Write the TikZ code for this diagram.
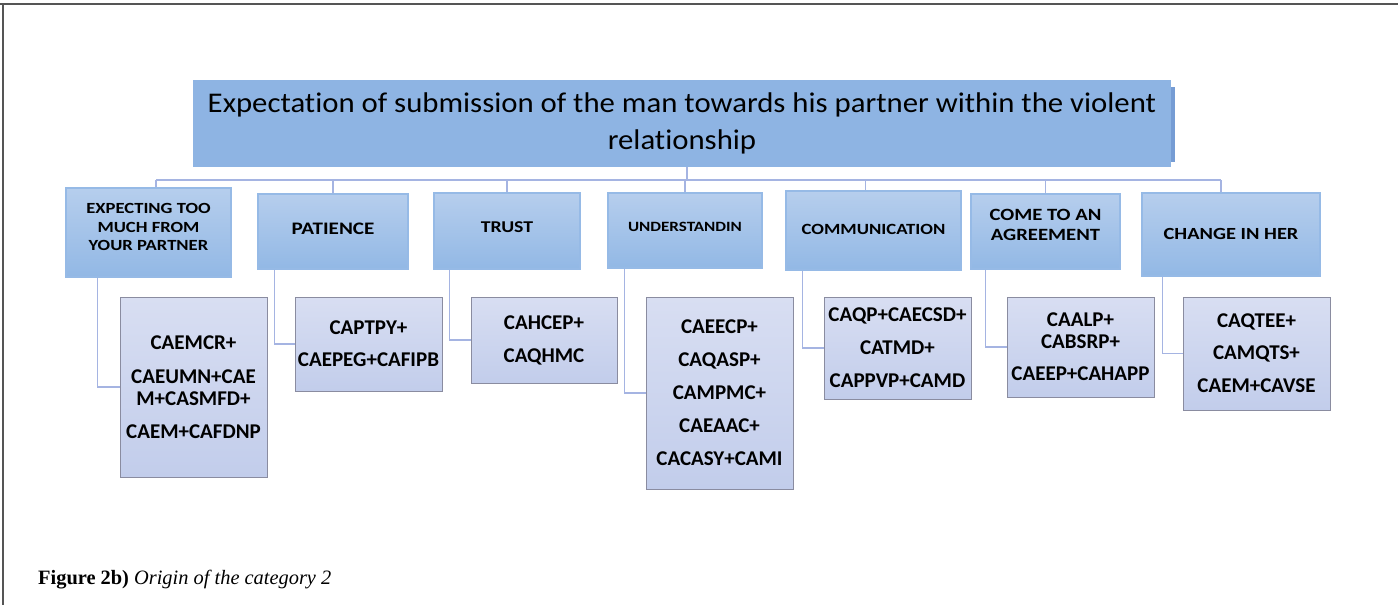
\documentclass[tikz,border=0pt]{standalone}
\usepackage{fontspec}
\newfontfamily\carl{Carlito}
\newfontfamily\carltitle[FakeStretch=1.08,Ligatures=NoCommon]{Carlito}
\newfontfamily\carlwide[FakeStretch=1.2]{Carlito}
\newfontfamily\capfont{Liberation Serif}
\definecolor{titlefill}{RGB}{142,180,227}
\definecolor{titleedge}{RGB}{118,156,212}
\definecolor{lonetop}{RGB}{182,206,237}
\definecolor{lonebot}{RGB}{146,184,229}
\definecolor{loneedge}{RGB}{150,186,230}
\definecolor{ltwotop}{RGB}{216,222,242}
\definecolor{ltwobot}{RGB}{194,205,235}
\definecolor{ltwoedge}{RGB}{138,140,160}
\definecolor{connc}{RGB}{165,180,226}
\definecolor{framec}{RGB}{85,85,85}
\tikzset{
  titlebox/.style={fill=titlefill, inner sep=0pt, align=center,
    font=\carltitle\fontsize{28.5}{37}\selectfont},
  lonebox/.style={draw=loneedge, line width=1.2pt, top color=lonetop,
    bottom color=lonebot, inner sep=0pt, align=center},
  ltwobox/.style={draw=ltwoedge, line width=1pt, top color=ltwotop,
    bottom color=ltwobot, inner sep=0pt, align=center,
    font=\carl\bfseries\fontsize{21}{22}\selectfont},
  conn/.style={draw=connc, line width=1.6pt},
  captext/.style={anchor=base west, inner sep=0pt,
    font=\capfont\fontsize{20.4}{22}\selectfont}
}
\begin{document}
\begin{tikzpicture}[x=1pt,y=-1pt]
\useasboundingbox (0,0) rectangle (1398,605);
% frame
\draw[framec, line width=2.5pt] (0,4) -- (1398,4);
\draw[framec, line width=1.8pt] (3,4) -- (3,605);

% title
\fill[titleedge] (1168,87) rectangle (1175,162);
\node[titlebox, minimum width=978pt, minimum height=87pt] (title) at (682,123.5)
  {Expectation of submission of the man towards his partner within the violent\\relationship};

% level 1
\node[lonebox, minimum width=165pt, minimum height=89pt, text depth=11pt,
  font=\carlwide\bfseries\fontsize{15.5}{18.5}\selectfont] (c1) at (148.5,232.5)
  {EXPECTING TOO\\MUCH FROM\\YOUR PARTNER};
\node[lonebox, minimum width=150pt, minimum height=75pt, text depth=6pt,
  font=\carlwide\bfseries\fontsize{17.6}{20}\selectfont] (c2) at (333,231.5) {PATIENCE};
\node[lonebox, minimum width=146pt, minimum height=76pt, text depth=8pt,
  font=\carlwide\bfseries\fontsize{16.5}{20}\selectfont] (c3) at (507,231) {TRUST};
\node[lonebox, minimum width=154pt, minimum height=75pt, text depth=8pt,
  font=\carlwide\bfseries\fontsize{14.2}{18}\selectfont] (c4) at (685,230.5) {UNDERSTANDIN};
\node[lonebox, minimum width=175pt, minimum height=79pt, text depth=3pt,
  font=\carlwide\bfseries\fontsize{15.6}{18}\selectfont] (c5) at (873.5,230.5) {COMMUNICATION};
\node[lonebox, minimum width=149pt, minimum height=75pt, text depth=13pt,
  font=\carlwide\bfseries\fontsize{17.2}{20}\selectfont] (c6) at (1045.5,231.5) {COME TO AN\\AGREEMENT};
\node[lonebox, minimum width=178pt, minimum height=83pt, text depth=2pt,
  font=\carlwide\bfseries\fontsize{17}{20}\selectfont] (c7) at (1231,234.5) {CHANGE IN HER};

% level 2
\node[ltwobox, minimum width=147pt, minimum height=180pt] (g1) at (193.5,387)
  {CAEMCR+\\[12pt]CAEUMN+CAE\\M+CASMFD+\\[11pt]CAEM+CAFDNP};
\node[ltwobox, minimum width=147pt, minimum height=94pt] (g2) at (368.5,344)
  {CAPTPY+\\[10pt]CAEPEG+CAFIPB};
\node[ltwobox, minimum width=146pt, minimum height=86pt] (g3) at (544,340)
  {CAHCEP+\\[11pt]CAQHMC};
\node[ltwobox, minimum width=147pt, minimum height=192pt] (g4) at (719.5,393)
  {CAEECP+\\[11pt]CAQASP+\\[11pt]CAMPMC+\\[11pt]CAEAAC+\\[11pt]CACASY+CAMI};
\node[ltwobox, minimum width=147pt, minimum height=102pt] (g5) at (897.5,348)
  {CAQP+CAECSD+\\[11pt]CATMD+\\[11pt]CAPPVP+CAMD};
\node[ltwobox, minimum width=147pt, minimum height=100pt] (g6) at (1080.5,347)
  {CAALP+\\CABSRP+\\[10pt]CAEEP+CAHAPP};
\node[ltwobox, minimum width=147pt, minimum height=113pt] (g7) at (1256.5,353.5)
  {CAQTEE+\\[10pt]CAMQTS+\\[11pt]CAEM+CAVSE};

% connectors: tree
\coordinate (bus) at (0,180);
\draw[conn] ([xshift=5pt]title.south) -- ([xshift=5pt]title.south |- bus);
\draw[conn] ([xshift=7.5pt]c1.north |- bus) -- ([xshift=-10pt]c7.north |- bus);
\draw[conn] ([xshift=7.5pt]c1.north) -- ([xshift=7.5pt]c1.north |- bus);
\draw[conn] (c2.north) -- (c2.north |- bus);
\draw[conn] (c3.north) -- (c3.north |- bus);
\draw[conn] (c4.north) -- (c4.north |- bus);
\draw[conn] ([xshift=-8pt]c5.north) -- ([xshift=-8pt]c5.north |- bus);
\draw[conn] (c6.north) -- (c6.north |- bus);
\draw[conn] ([xshift=-10pt]c7.north) -- ([xshift=-10pt]c7.north |- bus);

% connectors: elbows
\draw[conn] ([xshift=32pt]c1.south west) |- (g1.west);
\draw[conn] ([xshift=17pt]c2.south west) |- (g2.west);
\draw[conn] ([xshift=16pt]c3.south west) |- (g3.west);
\draw[conn] ([xshift=17pt]c4.south west) |- (g4.west);
\draw[conn] ([xshift=17pt]c5.south west) |- (g5.west);
\draw[conn] ([xshift=15pt]c6.south west) |- (g6.west);
\draw[conn] ([xshift=21pt]c7.south west) |- (g7.west);

% caption
\node[captext] (cap) at (38,584) {\textbf{Figure 2b)} \textit{Origin of the category 2}};
\end{tikzpicture}
\end{document}
